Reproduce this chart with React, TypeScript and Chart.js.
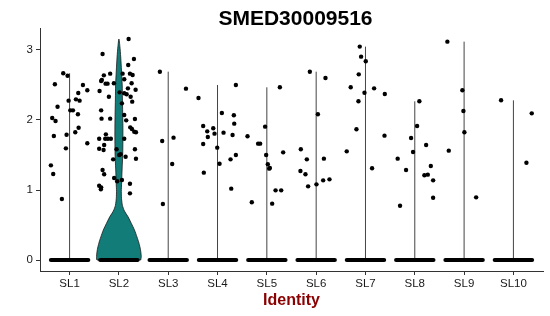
import React, { useEffect, useRef } from 'react';
import { Chart, registerables } from 'chart.js';

Chart.register(...registerables);

const chartTitle = 'SMED30009516';
const xAxisTitle = 'Identity';
const categories = ['SL1', 'SL2', 'SL3', 'SL4', 'SL5', 'SL6', 'SL7', 'SL8', 'SL9', 'SL10'];
const yTickValues = [0, 1, 2, 3];

// Non-zero expressing cells per identity: [expression, jitter offset]
const sl1: number[][] = [
  [2.667, -0.129], [2.633, -0.041], [2.51, -0.298], [2.5, 0.271], [2.19, -0.244], [2.424, 0.359],
  [2.386, 0.176], [2.276, -0.02], [2.295, 0.129], [2.276, 0.203], [2.138, 0.014], [2.138, 0.068],
  [2.081, 0.169], [2.029, -0.352], [1.986, -0.285], [1.89, 0.183], [1.824, 0.115], [1.771, -0.319],
  [1.79, -0.061], [1.667, 0.359], [1.595, -0.075], [1.352, -0.379], [1.229, -0.332], [0.871, -0.156],
];
const sl2: number[][] = [
  [3.157, 0.197], [2.943, -0.331], [2.871, 0.305], [2.786, 0.189], [2.638, -0.305], [2.662, -0.177],
  [2.557, -0.36], [2.571, -0.346], [2.519, -0.27], [2.519, -0.23], [2.524, -0.102], [2.662, 0.075],
  [2.581, 0.108], [2.662, 0.224], [2.643, 0.278], [2.524, 0.258], [2.452, 0.183], [2.433, 0.339],
  [2.381, 0.108], [2.367, 0.157], [2.333, 0.238], [2.262, 0.27], [2.333, -0.203], [2.395, 0.014],
  [2.238, 0.061], [2.414, -0.392], [2.138, -0.36], [2.019, -0.177], [2.019, -0.352], [2.071, 0.108],
  [1.995, 0.148], [2.014, 0.325], [1.895, 0.23], [1.871, 0.264], [1.833, 0.311], [1.824, 0.346],
  [1.795, -0.264], [1.733, -0.4], [1.733, -0.278], [1.733, -0.224], [1.733, -0.163], [1.733, 0.108],
  [1.643, -0.299], [1.59, -0.4], [1.571, -0.311], [1.581, -0.047], [1.5, 0.006], [1.51, 0.035],
  [1.581, 0.325], [1.447, 0.346], [1.476, 0.136], [1.438, -0.116], [1.286, -0.331], [1.224, -0.299],
  [1.171, -0.096], [1.124, -0.035], [1.143, 0.061], [1.09, 0.224], [1.061, -0.4], [1.038, -0.36],
  [1.01, -0.366], [0.952, 0.224],
];
const sl3: number[][] = [
  [2.69, -0.169], [1.7, -0.122], [1.748, 0.108], [1.371, 0.081], [0.8, -0.108], [2.448, 0.36],
];
const sl4: number[][] = [
  [2.314, -0.386], [2.1, 0.088], [2.067, 0.331], [1.948, 0.339], [1.914, -0.291], [1.881, -0.087],
  [1.838, -0.209], [1.805, -0.061], [1.819, 0.122], [1.757, -0.197], [1.786, 0.305], [1.657, -0.291],
  [1.605, -0.006], [1.5, 0.372], [1.438, 0.264], [1.376, 0.041], [1.248, -0.278], [1.019, 0.278],
  [2.5, 0.372],
];
const sl5: number[][] = [
  [1.767, -0.392], [1.905, -0.035], [1.662, -0.177], [1.662, -0.136], [1.5, -0.014], [1.367, 0.02],
  [1.305, 0.047], [1.314, 0.061], [1.538, 0.331], [2.467, 0.264], [0.824, -0.305], [0.805, 0.108],
  [0.995, 0.177], [0.995, 0.291],
];
const sl6: number[][] = [
  [2.69, -0.128], [2.6, 0.189], [2.081, 0.035], [1.581, -0.311], [1.438, -0.189], [1.448, 0.157],
  [1.271, -0.319], [1.224, -0.217], [1.052, -0.163], [1.081, 0.006], [1.138, 0.142], [1.152, 0.27],
];
const sl7: number[][] = [
  [3.048, -0.116], [2.905, -0.089], [2.838, 0.006], [2.652, -0.136], [2.467, -0.299], [2.39, -0.02],
  [2.267, -0.142], [1.867, -0.183], [1.552, -0.38], [2.452, 0.175], [2.371, 0.392], [1.776, 0.386],
  [1.31, 0.134],
];
const sl8: number[][] = [
  [2.267, 0.093], [1.914, 0.047], [1.743, -0.075], [1.643, 0.23], [1.543, -0.035], [1.448, -0.347],
  [1.343, 0.325], [1.286, -0.177], [1.21, 0.195], [1.219, 0.264], [1.138, 0.372], [0.776, -0.299],
  [0.89, 0.372],
];
const sl9: number[][] = [
  [3.119, -0.339], [2.424, -0.035], [2.129, -0.014], [1.824, 0.006], [1.562, -0.311], [0.895, 0.244],
];
const sl10: number[][] = [
  [2.281, -0.25], [2.095, 0.372], [1.39, 0.264],
];
const groups = [sl1, sl2, sl3, sl4, sl5, sl6, sl7, sl8, sl9, sl10];

// Cells with zero expression are jittered across this half width
const zeroJitter = 0.38;

// Density outline of the SL2 violin: expression level -> half width
const violinIndex = 2;
const violinLevels = [0, 0.05, 0.15, 0.24, 0.33, 0.43, 0.52, 0.62, 0.7, 0.78, 0.88, 0.98, 1.1, 1.3, 1.5, 1.7, 1.9, 2.1, 2.3, 2.5, 2.7, 2.9, 3.05, 3.157];
const violinHalfWidths = [0.443, 0.453, 0.437, 0.407, 0.366, 0.315, 0.254, 0.183, 0.112, 0.071, 0.053, 0.049, 0.055, 0.065, 0.077, 0.081, 0.081, 0.077, 0.071, 0.067, 0.053, 0.037, 0.02, 0];

const FONT = '"Liberation Sans", Arial, Helvetica, sans-serif';

const textPlugin = {
  id: 'textPlugin',
  afterDraw(chart: any) {
    const { ctx, chartArea } = chart;
    const cx = (chartArea.left + chartArea.right) / 2;
    ctx.save();
    ctx.textAlign = 'center';
    ctx.textBaseline = 'alphabetic';
    ctx.fillStyle = '#000000';
    ctx.font = `bold 21px ${FONT}`;
    ctx.fillText(chartTitle, cx + 4, 25);
    ctx.fillStyle = '#8B0000';
    ctx.font = `bold 16px ${FONT}`;
    ctx.fillText(xAxisTitle, cx, 305);
    ctx.restore();
  },
};

export default function App() {
  const ref = useRef<HTMLCanvasElement | null>(null);

  useEffect(() => {
    document.body.style.margin = '0';
    const canvas = ref.current;
    if (!canvas) return;

    const pointData: { x: number; y: number }[] = [];
    groups.forEach((g, i) => {
      g.forEach(([v, j]) => pointData.push({ x: i + 1 + j, y: v }));
    });

    const bandDatasets = categories.map((_, i) => ({
      type: 'line' as const,
      data: [
        { x: i + 1 - zeroJitter, y: 0 },
        { x: i + 1 + zeroJitter, y: 0 },
      ],
      borderColor: '#000000',
      borderWidth: 4,
      borderCapStyle: 'round' as const,
      pointRadius: 0,
      showLine: true,
      fill: false,
      clip: false as any,
    }));

    const lineDatasets = categories
      .map((_, i) => i)
      .filter((i) => i + 1 !== violinIndex)
      .map((i) => ({
        type: 'line' as const,
        data: [
          { x: i + 1, y: 0 },
          { x: i + 1, y: Math.max(...groups[i].map((p) => p[0])) },
        ],
        borderColor: '#444444',
        borderWidth: 1,
        pointRadius: 0,
        showLine: true,
        fill: false,
      }));

    const right = violinLevels.map((v, k) => ({ x: violinIndex + violinHalfWidths[k], y: v }));
    const left = violinLevels
      .slice(0, -1)
      .map((v, k) => ({ x: violinIndex - violinHalfWidths[k], y: v }))
      .reverse();
    const violinData = [...right, ...left, right[0]];

    const chart = new Chart(canvas, {
      type: 'scatter',
      data: {
        datasets: [
          {
            data: pointData,
            backgroundColor: '#000000',
            borderWidth: 0,
            pointRadius: 2.2,
            clip: false as any,
          } as any,
          ...bandDatasets,
          ...lineDatasets,
          {
            type: 'line',
            data: violinData,
            borderColor: '#1a1a1a',
            borderWidth: 0.8,
            backgroundColor: '#127C79',
            fill: 'shape',
            tension: 0.25,
            pointRadius: 0,
            showLine: true,
          } as any,
        ],
      },
      options: {
        animation: false,
        responsive: false,
        devicePixelRatio: 1,
        layout: { padding: { top: 28, right: 7, left: 0, bottom: 0 } },
        plugins: {
          legend: { display: false },
          tooltip: { enabled: false },
          title: { display: false },
        },
        scales: {
          x: {
            type: 'linear',
            min: 0.4,
            max: 10.6,
            afterBuildTicks: (s: any) => {
              s.ticks = categories.map((_, i) => ({ value: i + 1 }));
            },
            afterFit: (s: any) => {
              s.height = 45;
            },
            ticks: {
              callback: (_v: any, idx: number) => categories[idx],
              font: { family: FONT, size: 11.5 },
              color: '#1a1a1a',
              padding: 2,
              maxRotation: 0,
              autoSkip: false,
            },
            grid: { display: true, drawOnChartArea: false, drawTicks: true, tickLength: 4, color: '#333333', lineWidth: 1 },
            border: { display: true, color: '#333333', width: 1 },
          },
          y: {
            type: 'linear',
            min: -0.157,
            max: 3.314,
            afterBuildTicks: (s: any) => {
              s.ticks = yTickValues.map((v) => ({ value: v }));
            },
            afterFit: (s: any) => {
              s.width = 40;
            },
            ticks: {
              callback: (v: any) => String(v),
              font: { family: FONT, size: 11.5 },
              color: '#1a1a1a',
              padding: 3,
            },
            grid: { display: true, drawOnChartArea: false, drawTicks: true, tickLength: 4, color: '#333333', lineWidth: 1 },
            border: { display: true, color: '#333333', width: 1 },
          },
        },
      },
      plugins: [textPlugin],
    } as any);

    return () => chart.destroy();
  }, []);

  return (
    <div style={{ width: 550, height: 316 }}>
      <canvas ref={ref} width={550} height={316} style={{ display: 'block' }} />
    </div>
  );
}
